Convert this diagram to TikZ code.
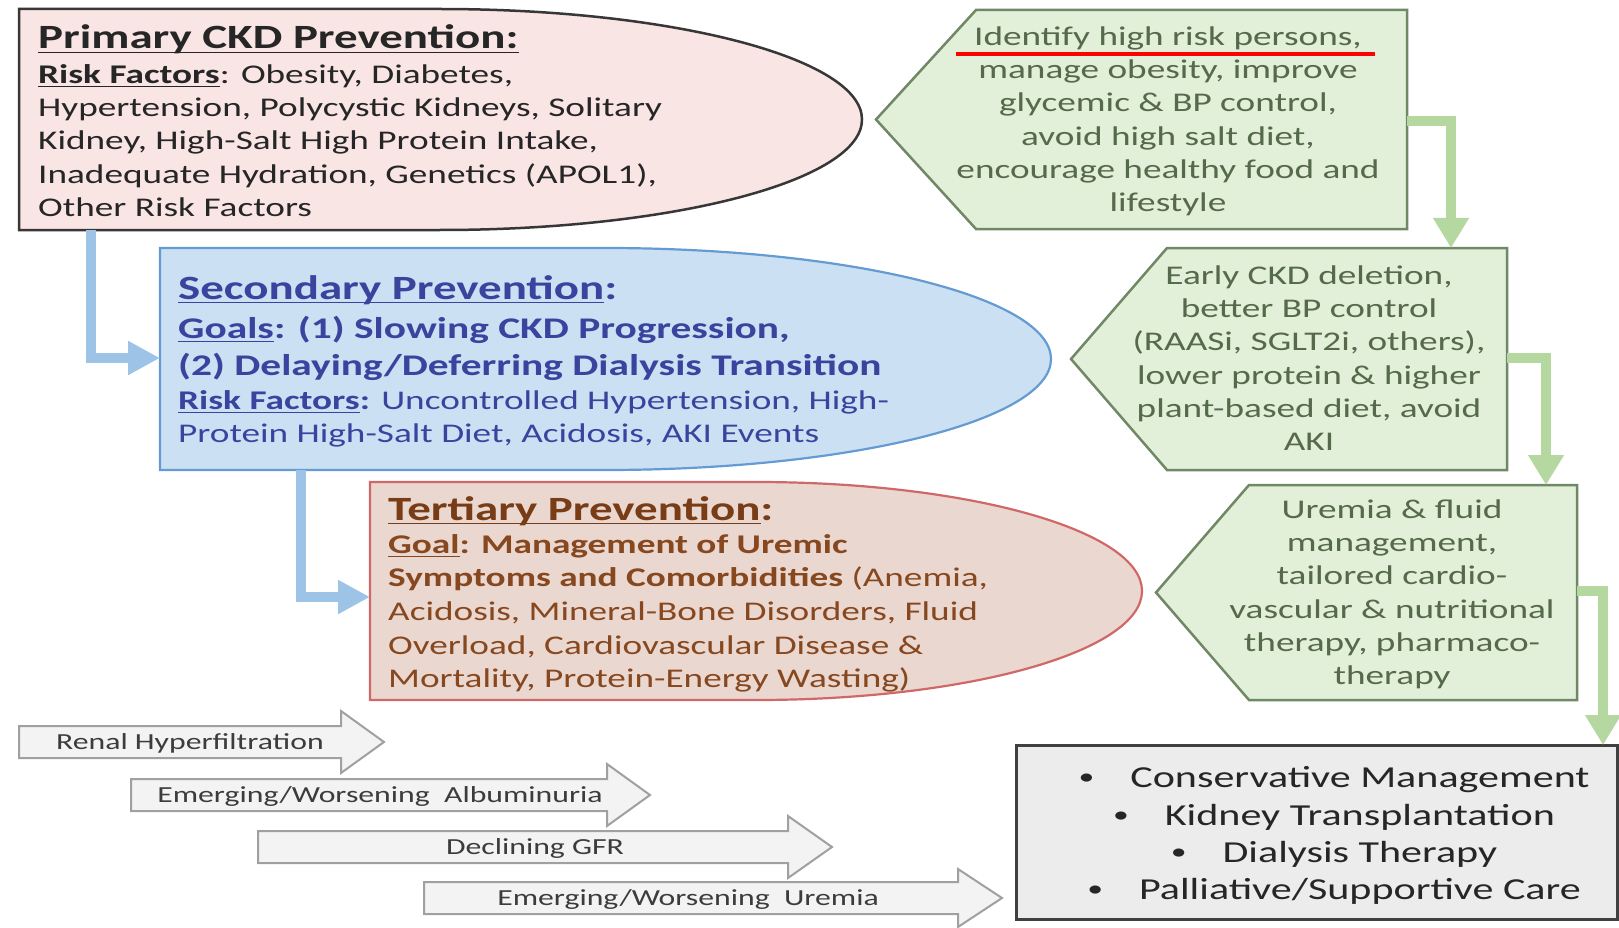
\documentclass[tikz,border=0pt]{standalone}
\usepackage{fontspec}
\setmainfont{Carlito}[FakeStretch=1.38]
\usetikzlibrary{arrows.meta}
\definecolor{pfill}{RGB}{250,229,229}
\definecolor{pdraw}{RGB}{55,55,55}
\definecolor{ptext}{RGB}{38,38,38}
\definecolor{sfill}{RGB}{203,224,243}
\definecolor{sdraw}{RGB}{100,155,210}
\definecolor{stext}{RGB}{58,68,158}
\definecolor{tfill}{RGB}{234,215,207}
\definecolor{tdraw}{RGB}{208,104,104}
\definecolor{ttext}{RGB}{135,72,32}
\definecolor{ttitle}{RGB}{120,60,22}
\definecolor{gfill}{RGB}{226,239,217}
\definecolor{gdraw}{RGB}{112,136,102}
\definecolor{gtxt}{RGB}{85,105,75}
\definecolor{gline}{RGB}{180,216,160}
\definecolor{bline}{RGB}{157,195,230}
\definecolor{afill}{RGB}{243,243,243}
\definecolor{adraw}{RGB}{160,160,160}
\definecolor{atxt}{RGB}{60,60,60}
\definecolor{xfill}{RGB}{236,236,236}
\definecolor{xdraw}{RGB}{64,64,64}
\newcommand\tr[1]{\rule{0pt}{#1pt}}
\newcommand\undl[1]{\leavevmode\setbox0=\hbox{#1}\rlap{\rule[-4.2pt]{\wd0}{1.6pt}}\box0}
\newcommand\bul{\raisebox{2.5pt}{\fontsize{23}{23}\selectfont\textbullet}\hspace{36pt}}
\begin{document}
\begin{tikzpicture}[x=1pt,y=-1pt,
  pshape/.style={fill=pfill,draw=pdraw,line width=2.5pt},
  sshape/.style={fill=sfill,draw=sdraw,line width=2.2pt},
  tshape/.style={fill=tfill,draw=tdraw,line width=2.2pt},
  gshape/.style={fill=gfill,draw=gdraw,line width=2.5pt,line join=miter},
  ashape/.style={fill=afill,draw=adraw,line width=2pt},
  xbox/.style={fill=xfill,draw=xdraw,line width=3pt},
  bconn/.style={draw=bline,line width=10pt,-{Triangle[width=32pt,length=32pt]}},
  gconn/.style={draw=gline,line width=10pt,-{Triangle[width=34pt,length=30pt]}},
  titlefont/.style={font=\fontsize{34}{40}\selectfont\bfseries,inner sep=0,anchor=base west},
  bodyfont/.style={font=\fontsize{27}{33.3}\selectfont,inner sep=0,anchor=north west,align=left},
  gtext/.style={font=\fontsize{27}{33.3}\selectfont,text=gtxt,inner sep=0,anchor=north,align=center},
  atext/.style={font=\fontsize{23}{28}\selectfont,text=atxt,inner sep=0,anchor=base},
  xtext/.style={font=\fontsize{30.5}{37}\selectfont,text=ptext,inner sep=0,anchor=base}
]
\useasboundingbox (0,0) rectangle (1619,928);
\fill[white] (0,0) rectangle (1619,928);

% Primary
\path[pshape] (19,9) -- (440,9) arc[start angle=90,end angle=-90,x radius=422pt,y radius=110.5pt] -- (19,230) -- cycle;
\coordinate (P-s) at (91,230);
\node[titlefont,text=ptext] (Ptitle) at (38,49) {\undl{Primary CKD Prevention:}};
\node[bodyfont,text=ptext] (Pbody) at (38,61.4) {\tr{21.6}\undl{\textbf{Risk Factors}}: Obesity, Diabetes,\\Hypertension, Polycystic Kidneys, Solitary\\Kidney, High-Salt High Protein Intake,\\Inadequate Hydration, Genetics (APOL1),\\Other Risk Factors};

% Secondary
\path[sshape] (160,248) -- (605,248) arc[start angle=90,end angle=-90,x radius=446pt,y radius=111pt] -- (160,470) -- cycle;
\coordinate (S-w) at (160,358);
\coordinate (S-s) at (301,470);
\node[titlefont,text=stext] (Stitle) at (178,299) {\undl{Secondary Prevention}:};
\node[bodyfont,text=stext,font=\fontsize{30}{37}\selectfont\bfseries] (Sgoals) at (178,314) {\tr{24}\undl{Goals}: (1) Slowing CKD Progression,\\(2) Delaying/Deferring Dialysis Transition};
\node[bodyfont,text=stext,font=\fontsize{27}{33}\selectfont] (Srisk) at (178,387.4) {\tr{21.6}\textbf{\undl{Risk Factors}:} Uncontrolled Hypertension, High-\\Protein High-Salt Diet, Acidosis, AKI Events};

% Tertiary
\path[tshape] (370,482) -- (756,482) arc[start angle=90,end angle=-90,x radius=386pt,y radius=109pt] -- (370,700) -- cycle;
\coordinate (T-w) at (370,597);
\node[titlefont,text=ttitle] (Ttitle) at (388,520) {\undl{Tertiary Prevention}:};
\node[bodyfont,text=ttext,font=\fontsize{27}{33.6}\selectfont] (Tbody) at (388,531.4) {\tr{21.6}\textbf{\undl{Goal}: Management of Uremic}\\\textbf{Symptoms and Comorbidities} (Anemia,\\Acidosis, Mineral-Bone Disorders, Fluid\\Overload, Cardiovascular Disease \&\\Mortality, Protein-Energy Wasting)};

% Green pentagons
\path[gshape] (976,10) -- (1407,10) -- (1407,229) -- (976,229) -- (876,119.5) -- cycle;
\coordinate (G1-e) at (1407,121);
\node[gtext] (G1t) at (1168,23.4) {\tr{21.6}Identify high risk persons,\\manage obesity, improve\\glycemic \& BP control,\\avoid high salt diet,\\encourage healthy food and\\lifestyle};
\draw[red,line width=4pt] (956,54) -- (1375,54);

\path[gshape] (1167,248) -- (1507,248) -- (1507,470) -- (1167,470) -- (1071,359) -- cycle;
\coordinate (G2-n) at (1451,248);
\coordinate (G2-e) at (1507,358);
\node[gtext] (G2t) at (1309,262.4) {\tr{21.6}Early CKD deletion,\\better BP control\\(RAASi, SGLT2i, others),\\lower protein \& higher\\plant-based diet, avoid\\AKI};

\path[gshape] (1249,485) -- (1577,485) -- (1577,700) -- (1249,700) -- (1156,592.5) -- cycle;
\coordinate (G3-n) at (1546,485);
\coordinate (G3-e) at (1577,591);
\node[gtext] (G3t) at (1392,496.4) {\tr{21.6}Uremia \& fluid\\management,\\tailored cardio-\\vascular \& nutritional\\therapy, pharmaco-\\therapy};

% Bottom box
\path[xbox] (1016,745) rectangle (1617,919);
\coordinate (X-n) at (1603,745);
\node[xtext] (X1) at (1334,787) {\bul Conservative Management};
\node[xtext] (X2) at (1334,825) {\bul Kidney Transplantation};
\node[xtext] (X3) at (1334,862) {\bul Dialysis Therapy};
\node[xtext] (X4) at (1334,899) {\bul Palliative/Supportive Care};

% Gray block arrows
\path[ashape] (19,726) -- (341,726) -- (341,711) -- (384,742) -- (341,773) -- (341,758) -- (19,758) -- cycle;
\node[atext] (A1) at (190,749.5) {Renal Hyperfiltration};
\path[ashape] (131,779) -- (607,779) -- (607,764) -- (650,795) -- (607,826) -- (607,811) -- (131,811) -- cycle;
\node[atext] (A2) at (380,802.5) {Emerging/Worsening\ \ Albuminuria};
\path[ashape] (258,831) -- (788,831) -- (788,816) -- (832,847) -- (788,878) -- (788,863) -- (258,863) -- cycle;
\node[atext] (A3) at (535,854.5) {Declining GFR};
\path[ashape] (424,882) -- (958,882) -- (958,869) -- (1002,898) -- (958,927) -- (958,914) -- (424,914) -- cycle;
\node[atext] (A4) at (688,905.5) {Emerging/Worsening\ \ Uremia};

% Connectors
\draw[bconn] (P-s) |- (S-w);
\draw[bconn] (S-s) |- (T-w);
\draw[gconn] (G1-e) -| (G2-n);
\draw[gconn] (G2-e) -| (G3-n);
\draw[gconn] (G3-e) -| (X-n);
\end{tikzpicture}
\end{document}
